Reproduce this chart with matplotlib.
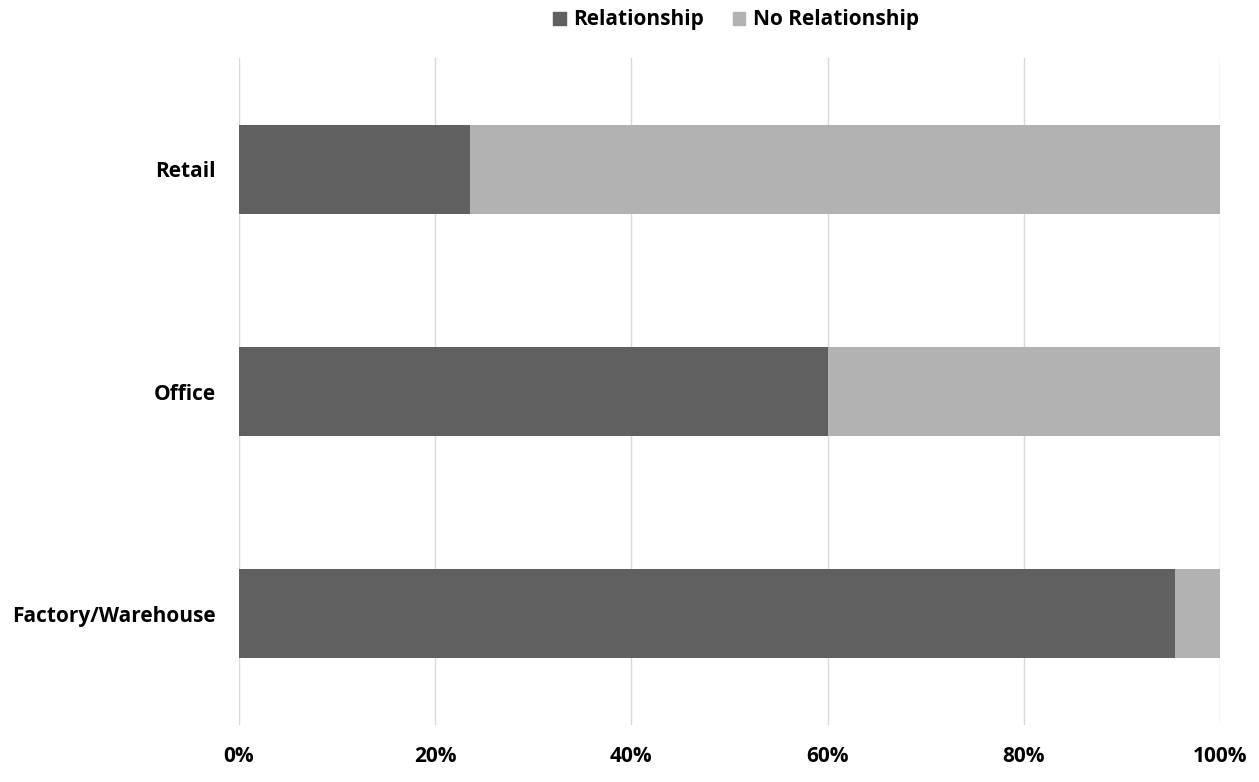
import matplotlib

matplotlib.use("Agg")
import matplotlib.pyplot as plt
from matplotlib.patches import Patch
from matplotlib.ticker import PercentFormatter

plt.rcParams["font.family"] = ["Open Sans", "DejaVu Sans"]

categories = ["Retail", "Office", "Factory/Warehouse"]
relationship = [23.5, 60.0, 95.4]
no_relationship = [100 - v for v in relationship]
xticks = [0, 20, 40, 60, 80, 100]

DARK = "#606060"
LIGHT = "#b2b2b2"
GRID = "#d9d9d9"
INK = "#000000"
FS = 15

W, H = 1259, 782
fig = plt.figure(figsize=(W / 100, H / 100), dpi=100)
ax = fig.add_axes([239 / W, (H - 725) / H, (1220 - 239) / W, (725 - 58) / H])

ypos = list(range(len(categories)))
ax.barh(ypos, relationship, height=0.4, color=DARK, zorder=2)
ax.barh(ypos, no_relationship, left=relationship, height=0.4, color=LIGHT, zorder=2)

ax.set_ylim(len(categories) - 0.5, -0.5)
ax.set_xlim(0, 100)
ax.set_yticks(ypos)
ax.set_yticklabels(categories)
ax.set_xticks(xticks)
ax.xaxis.set_major_formatter(PercentFormatter(decimals=0))

ax.grid(axis="x", color=GRID, linewidth=1, zorder=0)
for spine in ax.spines.values():
    spine.set_visible(False)
ax.tick_params(axis="both", length=0, labelsize=FS, colors=INK)
ax.tick_params(axis="y", pad=16.5)
ax.tick_params(axis="x", pad=15)
for lbl in ax.get_xticklabels() + ax.get_yticklabels():
    lbl.set_fontweight("bold")

handles = [Patch(color=DARK, label="Relationship"), Patch(color=LIGHT, label="No Relationship")]
fig.legend(
    handles=handles,
    loc="center",
    bbox_to_anchor=(736 / W, 1 - 20 / H),
    ncol=2,
    frameon=False,
    prop={"weight": "bold", "size": FS},
    handlelength=0.6,
    handleheight=0.6,
    handletextpad=0.35,
    columnspacing=1.4,
)

fig.savefig("out.png", dpi=100)
